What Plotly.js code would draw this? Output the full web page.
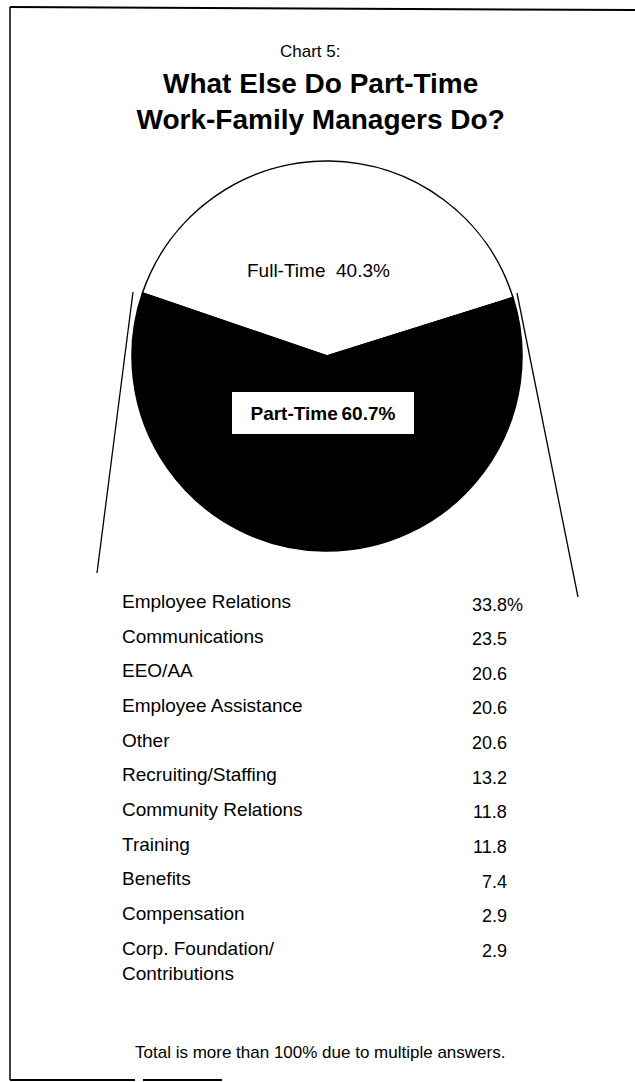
<!DOCTYPE html>
<html>
<head>
<meta charset="utf-8">
<script src="https://cdn.plot.ly/plotly-3.0.1.min.js"></script>
<style>
  html, body { margin: 0; padding: 0; background: #fff; }
  #chart { width: 635px; height: 1082px; }
</style>
</head>
<body>
<div id="chart"></div>
<script>
// ---- data ----
const pieLabels = ['Full-Time', 'Part-Time'];
const pieValues = [40.3, 60.7];
const pieColors = ['#ffffff', '#000000'];

const categories = [
  'Employee Relations',
  'Communications',
  'EEO/AA',
  'Employee Assistance',
  'Other',
  'Recruiting/Staffing',
  'Community Relations',
  'Training',
  'Benefits',
  'Compensation',
  'Corp. Foundation/<br>Contributions'
];
const shares = [33.8, 23.5, 20.6, 20.6, 20.6, 13.2, 11.8, 11.8, 7.4, 2.9, 2.9];

const chartLabel = 'Chart 5:';
const titleText = 'What Else Do Part-Time<br>Work-Family Managers Do?';
const footnote = 'Total is more than 100% due to multiple answers.';

// ---- layout helpers (page pixels -> paper) ----
const W = 635, H = 1082;
const px = x => x / W;
const py = y => 1 - y / H;
const FONT = 'Liberation Sans, Arial, Helvetica, sans-serif';

const annotations = [];

annotations.push({
  text: chartLabel, xref: 'paper', yref: 'paper', x: px(310), y: py(51),
  xanchor: 'center', yanchor: 'middle', showarrow: false,
  font: {family: FONT, size: 17, color: '#000'}
});

// pie slice labels
annotations.push({
  text: pieLabels[0] + '\u00a0\u00a0' + pieValues[0].toFixed(1) + '%',
  xref: 'paper', yref: 'paper', x: px(319), y: py(271),
  xanchor: 'center', yanchor: 'middle', showarrow: false,
  font: {family: FONT, size: 19, color: '#000'}
});
annotations.push({
  text: '<b>' + pieLabels[1] + '\u2009' + pieValues[1].toFixed(1) + '%</b>',
  xref: 'paper', yref: 'paper', x: px(323), y: py(413),
  xanchor: 'center', yanchor: 'middle', showarrow: false,
  width: 180, height: 40, bgcolor: '#ffffff', borderwidth: 0,
  font: {family: FONT, size: 19, color: '#000'}
});

// table rows
const rowY0 = 601.5, rowStep = 34.65;
categories.forEach((c, i) => {
  const yc = rowY0 + i * rowStep;
  annotations.push({
    text: c, xref: 'paper', yref: 'paper', x: px(120), y: py(yc - 12.5),
    xanchor: 'left', yanchor: 'top', align: 'left', showarrow: false,
    font: {family: FONT, size: 19, color: '#000'}
  });
  annotations.push({
    text: shares[i].toFixed(1), xref: 'paper', yref: 'paper', x: px(509),
    y: py(yc + 3), xanchor: 'right', yanchor: 'middle', showarrow: false,
    font: {family: FONT, size: 18, color: '#000'}
  });
  if (i === 0) {
    annotations.push({
      text: '%', xref: 'paper', yref: 'paper', x: px(505),
      y: py(yc + 3), xanchor: 'left', yanchor: 'middle', showarrow: false,
      font: {family: FONT, size: 18, color: '#000'}
    });
  }
});

annotations.push({
  text: footnote, xref: 'paper', yref: 'paper', x: px(320), y: py(1052),
  xanchor: 'center', yanchor: 'middle', showarrow: false,
  font: {family: FONT, size: 17, color: '#000'}
});

// decorative lines
const line = (x0, y0, x1, y1, w) => ({
  type: 'line', xref: 'paper', yref: 'paper',
  x0: px(x0), y0: py(y0), x1: px(x1), y1: py(y1),
  line: {color: '#000', width: w || 1.3}
});
const shapes = [
  line(133, 292, 97, 573),
  line(517, 293, 578, 597),
  // frame
  line(10, 7, 635, 10, 2),
  line(10, 7, 10, 1080, 1.5),
  line(10, 1080, 135, 1080, 2),
  line(143, 1080, 222, 1080, 2)
];

const trace = {
  type: 'pie',
  labels: pieLabels,
  values: pieValues,
  sort: false,
  direction: 'clockwise',
  rotation: -71.1,
  textinfo: 'none',
  hoverinfo: 'label+value',
  marker: {colors: pieColors, line: {color: '#000', width: 1.5}},
  domain: {x: [px(132), px(522)], y: [py(551), py(161)]},
  showlegend: false
};

const layout = {
  width: W, height: H,
  margin: {l: 0, r: 0, t: 0, b: 0},
  paper_bgcolor: '#fff', plot_bgcolor: '#fff',
  showlegend: false,
  title: {
    text: '<b>' + titleText + '</b>',
    x: 0.505, xanchor: 'center', xref: 'paper',
    y: py(93), yanchor: 'top', yref: 'container',
    font: {family: FONT, size: 28, color: '#000'}
  },
  annotations: annotations,
  shapes: shapes
};

Plotly.newPlot('chart', [trace], layout, {displayModeBar: false, staticPlot: true});
</script>
</body>
</html>
